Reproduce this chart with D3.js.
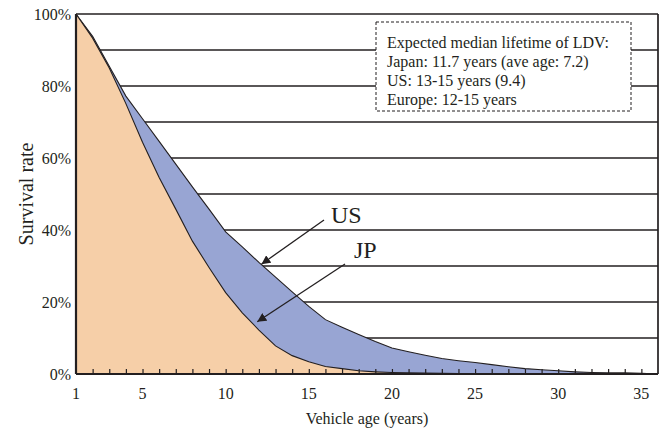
<!DOCTYPE html>
<html><head><meta charset="utf-8">
<script src="https://cdn.jsdelivr.net/npm/d3@7"></script>
<style>body{margin:0;background:#fff}svg{display:block}</style>
</head><body><svg id="c" width="663" height="431"></svg>
<script>
// ---- data ----
const years = d3.range(1, 37);
const usSurvival = [100, 93.8, 85.5, 77.2, 70.9, 64.6, 58.3, 52.0, 45.8, 39.5,
  35.3, 31.0, 26.9, 22.8, 18.8, 15.1, 13.0, 11.0, 9.0, 7.2,
  6.2, 5.2, 4.3, 3.7, 3.2, 2.6, 2.0, 1.5, 1.2, 0.9,
  0.6, 0.4, 0.3, 0.3, 0.2, 0];
const jpSurvival = [100, 93.3, 85.0, 75.1, 64.4, 54.6, 45.8, 36.9, 29.6, 22.6,
  17.0, 12.2, 7.8, 5.1, 3.4, 2.1, 1.5, 0.9, 0.6, 0.4,
  0.3, 0.25, 0.2, 0.15, 0.1, 0.1, 0.1, 0.1, 0.1, 0.1,
  0.1, 0.1, 0.1, 0.1, 0.1, 0];
const xTickLabels = [1, 5, 10, 15, 20, 25, 30, 35];
const yTickLabels = [0, 20, 40, 60, 80, 100];
const gridLevels = [10, 20, 30, 40, 50, 60, 70, 80, 90, 100];
const noteLines = ["Expected median lifetime of LDV:",
  "Japan: 11.7 years (ave age: 7.2)",
  "US: 13-15 years (9.4)",
  "Europe: 12-15 years"];
const seriesNames = ["US", "JP"];

// ---- layout ----
const svg = d3.select("#c");
const pL = 76, pR = 658, pT = 14, pB = 374;
const x = d3.scaleLinear().domain([1, 36]).range([pL, pR]);
const y = d3.scaleLinear().domain([0, 100]).range([pB, pT]);
const font = "'Liberation Serif','Times New Roman',serif";
const ink = "#231f20";

// gridlines
svg.append("g").selectAll("line").data(gridLevels).join("line")
  .attr("x1", pL).attr("x2", pR)
  .attr("y1", d => y(d)).attr("y2", d => y(d))
  .attr("stroke", ink).attr("stroke-width", 1.7);
// right border
svg.append("line").attr("x1", pR).attr("x2", pR).attr("y1", pT).attr("y2", pB)
  .attr("stroke", ink).attr("stroke-width", 1.7);

const usData = years.map((yr, i) => [yr, usSurvival[i]]);
const jpData = years.map((yr, i) => [yr, jpSurvival[i]]);
const area = d3.area().x(d => x(d[0])).y0(y(0)).y1(d => y(d[1]));
const line = d3.line().x(d => x(d[0])).y(d => y(d[1]));

svg.append("path").attr("d", area(usData)).attr("fill", "#98a5d3");
svg.append("path").attr("d", line(usData)).attr("fill", "none").attr("stroke", ink).attr("stroke-width", 1.1);
svg.append("path").attr("d", area(jpData)).attr("fill", "#f6cfa8");
svg.append("path").attr("d", line(jpData)).attr("fill", "none").attr("stroke", ink).attr("stroke-width", 1.1);

// axes
const xAxis = d3.axisBottom(x).tickValues(years.slice(1, 35)).tickSize(-5).tickFormat("");
const gx = svg.append("g").attr("transform", `translate(0,${pB})`).call(xAxis);
gx.select(".domain").remove();
gx.selectAll(".tick line").attr("stroke", ink).attr("stroke-width", 1.2);
svg.append("line").attr("x1", pL).attr("x2", pR).attr("y1", pB).attr("y2", pB)
  .attr("stroke", ink).attr("stroke-width", 2.2);
svg.append("line").attr("x1", pL).attr("x2", pL).attr("y1", pT).attr("y2", pB)
  .attr("stroke", ink).attr("stroke-width", 2.2);

svg.append("g").selectAll("text").data(xTickLabels).join("text")
  .attr("x", d => x(d)).attr("y", pB + 25)
  .attr("text-anchor", "middle").attr("font-family", font).attr("font-size", 16).attr("fill", ink)
  .text(d => d);
svg.append("g").selectAll("text").data(yTickLabels).join("text")
  .attr("x", pL - 5).attr("y", d => y(d)).attr("dy", "0.35em")
  .attr("text-anchor", "end").attr("font-family", font).attr("font-size", 16).attr("fill", ink)
  .text(d => d + "%");

svg.append("text").attr("x", (pL + pR) / 2).attr("y", 424)
  .attr("text-anchor", "middle").attr("font-family", font).attr("font-size", 16).attr("fill", ink)
  .text("Vehicle age (years)");
svg.append("text").attr("transform", `translate(33,${(pT + pB) / 2}) rotate(-90)`)
  .attr("text-anchor", "middle").attr("font-family", font).attr("font-size", 20).attr("fill", ink)
  .text("Survival rate");

// note box
svg.append("rect").attr("x", 376).attr("y", 22).attr("width", 255).attr("height", 89)
  .attr("fill", "#fff").attr("stroke", ink).attr("stroke-width", 1).attr("stroke-dasharray", "3,2");
svg.append("g").selectAll("text").data(noteLines).join("text")
  .attr("x", 387).attr("y", (d, i) => 48 + i * 19)
  .attr("font-family", font).attr("font-size", 16).attr("fill", ink)
  .text(d => d);

// arrows
const defs = svg.append("defs");
defs.append("marker").attr("id", "ah").attr("viewBox", "0 0 10 10").attr("refX", 10).attr("refY", 5)
  .attr("markerWidth", 9).attr("markerHeight", 9).attr("markerUnits", "userSpaceOnUse").attr("orient", "auto")
  .append("path").attr("d", "M0,0L10,5L0,10z").attr("fill", ink);
const annotations = [
  {name: seriesNames[0], from: [324, 220], tip: [x(12.15), y(30.5)], label: [331, 223]},
  {name: seriesNames[1], from: [345, 264], tip: [x(11.9), y(14.5)], label: [354, 258]}
];
annotations.forEach(a => {
  svg.append("line").attr("x1", a.from[0]).attr("y1", a.from[1]).attr("x2", a.tip[0]).attr("y2", a.tip[1])
    .attr("stroke", ink).attr("stroke-width", 1.3).attr("marker-end", "url(#ah)");
  svg.append("text").attr("x", a.label[0]).attr("y", a.label[1])
    .attr("font-family", font).attr("font-size", 24).attr("fill", ink).text(a.name);
});
</script></body></html>
